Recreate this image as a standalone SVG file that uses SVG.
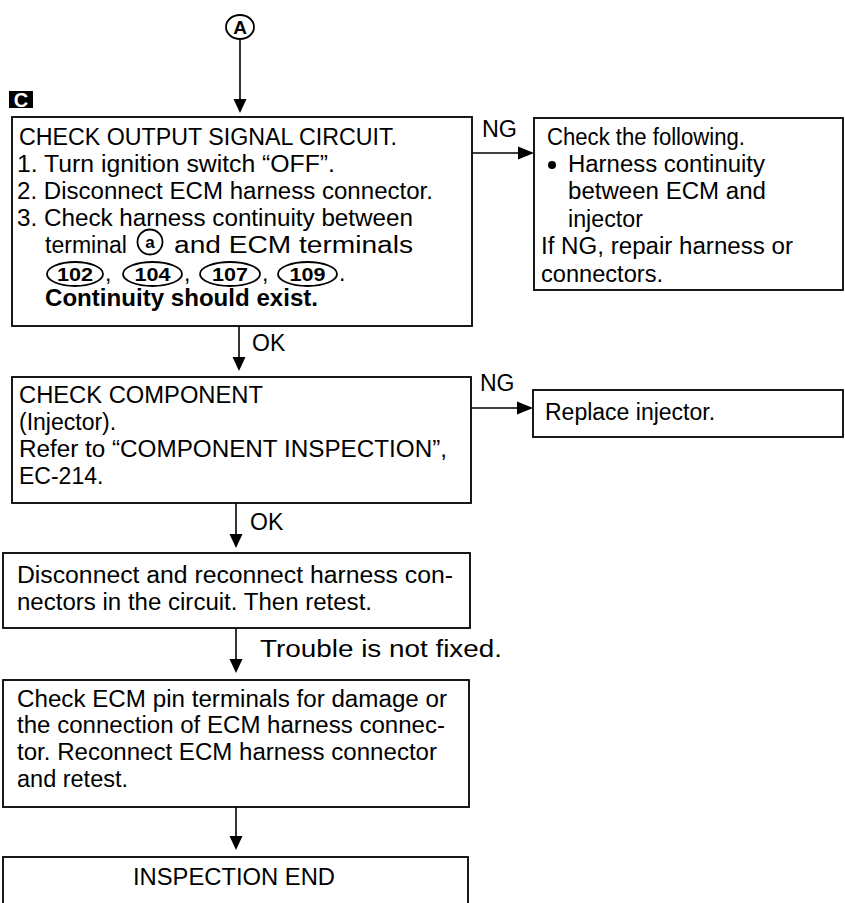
<svg xmlns="http://www.w3.org/2000/svg" width="845" height="903" viewBox="0 0 845 903">
<style>
  .box { fill: #ffffff; stroke: #000000; stroke-width: 1.8; }
  .t { font-family: "Liberation Sans", Arial, Helvetica, sans-serif; font-size: 23px; fill: #000000; }
  .b { font-weight: bold; }
  .num { font-family: "Liberation Sans", Arial, Helvetica, sans-serif; font-size: 18px; font-weight: bold; fill: #000000; text-anchor: middle; }
  .ring { fill: none; stroke: #000000; stroke-width: 1.8; }
  .line { stroke: #000000; stroke-width: 1.6; fill: none; }
  .head { fill: #000000; stroke: none; }
</style>
<rect x="0" y="0" width="845" height="903" fill="#ffffff"/>

<g id="startA">
  <ellipse class="ring" cx="240" cy="27" rx="14" ry="12"/>
  <text class="num" x="240" y="34" style="font-size:19px">A</text>
</g>

<g id="labelC">
  <rect x="9" y="91" width="24" height="17" fill="#000000"/>
  <text x="21" y="107" font-family="Liberation Sans, Arial, sans-serif" font-size="20" font-weight="bold" fill="#ffffff" text-anchor="middle">C</text>
</g>

<g id="connectors">
  <line class="line" x1="240" y1="39" x2="240" y2="100"/>
  <polygon class="head" points="233.5,99 246.5,99 240,113"/>

  <line class="line" x1="472" y1="153" x2="520" y2="153"/>
  <polygon class="head" points="518,146.5 518,159.5 534,153"/>
  <text class="t" x="482" y="137" textLength="35" lengthAdjust="spacingAndGlyphs">NG</text>

  <line class="line" x1="239" y1="326" x2="239" y2="358"/>
  <polygon class="head" points="232.5,357 245.5,357 239,371"/>
  <text class="t" x="252" y="351">OK</text>

  <line class="line" x1="471" y1="408" x2="519" y2="408"/>
  <polygon class="head" points="517,401.5 517,414.5 533,408"/>
  <text class="t" x="480" y="391">NG</text>

  <line class="line" x1="236" y1="503" x2="236" y2="535"/>
  <polygon class="head" points="229.5,534 242.5,534 236,548"/>
  <text class="t" x="250" y="530">OK</text>

  <line class="line" x1="236" y1="628" x2="236" y2="660"/>
  <polygon class="head" points="229.5,659 242.5,659 236,673"/>
  <text class="t" x="260" y="657" textLength="242" lengthAdjust="spacingAndGlyphs">Trouble is not fixed.</text>

  <line class="line" x1="236" y1="807" x2="236" y2="837"/>
  <polygon class="head" points="229.5,836 242.5,836 236,850"/>
</g>

<g id="checkOutput">
  <rect class="box" x="12" y="117" width="460" height="209"/>
  <text class="t" x="19" y="145" textLength="378" lengthAdjust="spacingAndGlyphs">CHECK OUTPUT SIGNAL CIRCUIT.</text>
  <text class="t" x="17" y="172" textLength="318" lengthAdjust="spacingAndGlyphs">1. Turn ignition switch “OFF”.</text>
  <text class="t" x="17" y="199" textLength="416" lengthAdjust="spacingAndGlyphs">2. Disconnect ECM harness connector.</text>
  <text class="t" x="17" y="226" textLength="396" lengthAdjust="spacingAndGlyphs">3. Check harness continuity between</text>
  <text class="t" x="45" y="253" textLength="82" lengthAdjust="spacingAndGlyphs">terminal</text>
  <circle class="ring" cx="150" cy="242" r="12.5"/>
  <text class="t" x="150" y="247.5" style="font-size:17px;font-weight:bold" text-anchor="middle">a</text>
  <text class="t" x="174" y="253" textLength="239" lengthAdjust="spacingAndGlyphs">and ECM terminals</text>
  <ellipse class="ring" cx="75" cy="274" rx="28" ry="12"/>
  <text class="num" x="75" y="280.5" textLength="36" lengthAdjust="spacingAndGlyphs">102</text>
  <text class="t" x="105" y="281">,</text>
  <ellipse class="ring" cx="152.5" cy="274" rx="29.5" ry="12"/>
  <text class="num" x="152.5" y="280.5" textLength="36" lengthAdjust="spacingAndGlyphs">104</text>
  <text class="t" x="184" y="281">,</text>
  <ellipse class="ring" cx="230" cy="274" rx="30" ry="12"/>
  <text class="num" x="230" y="280.5" textLength="36" lengthAdjust="spacingAndGlyphs">107</text>
  <text class="t" x="262" y="281">,</text>
  <ellipse class="ring" cx="307.5" cy="274" rx="29.5" ry="12"/>
  <text class="num" x="307.5" y="280.5" textLength="36" lengthAdjust="spacingAndGlyphs">109</text>
  <text class="t" x="339" y="281">.</text>
  <text class="t b" x="45" y="306" textLength="273" lengthAdjust="spacingAndGlyphs">Continuity should exist.</text>
</g>

<g id="checkFollowing">
  <rect class="box" x="534" y="118" width="309" height="172"/>
  <text class="t" x="547" y="145" textLength="198" lengthAdjust="spacingAndGlyphs">Check the following.</text>
  <circle cx="552" cy="165" r="4" fill="#000000"/>
  <text class="t" x="568" y="172" textLength="197" lengthAdjust="spacingAndGlyphs">Harness continuity</text>
  <text class="t" x="568" y="199" textLength="198" lengthAdjust="spacingAndGlyphs">between ECM and</text>
  <text class="t" x="568" y="227" textLength="75" lengthAdjust="spacingAndGlyphs">injector</text>
  <text class="t" x="541" y="254" textLength="252" lengthAdjust="spacingAndGlyphs">If NG, repair harness or</text>
  <text class="t" x="541" y="282" textLength="122" lengthAdjust="spacingAndGlyphs">connectors.</text>
</g>

<g id="checkComponent">
  <rect class="box" x="12" y="377" width="459" height="126"/>
  <text class="t" x="19" y="403" textLength="244" lengthAdjust="spacingAndGlyphs">CHECK COMPONENT</text>
  <text class="t" x="19" y="430">(Injector).</text>
  <text class="t" x="19" y="457" textLength="428" lengthAdjust="spacingAndGlyphs">Refer to “COMPONENT INSPECTION”,</text>
  <text class="t" x="19" y="484">EC-214.</text>
</g>

<g id="replaceInjector">
  <rect class="box" x="533" y="390" width="310" height="47"/>
  <text class="t" x="545" y="420">Replace injector.</text>
</g>

<g id="reconnect">
  <rect class="box" x="3" y="553" width="467" height="75"/>
  <text class="t" x="17" y="583" textLength="436" lengthAdjust="spacingAndGlyphs">Disconnect and reconnect harness con-</text>
  <text class="t" x="17" y="610" textLength="355" lengthAdjust="spacingAndGlyphs">nectors in the circuit. Then retest.</text>
</g>

<g id="checkPins">
  <rect class="box" x="3" y="680" width="466" height="127"/>
  <text class="t" x="17" y="707" textLength="430" lengthAdjust="spacingAndGlyphs">Check ECM pin terminals for damage or</text>
  <text class="t" x="17" y="733" textLength="428" lengthAdjust="spacingAndGlyphs">the connection of ECM harness connec-</text>
  <text class="t" x="17" y="760" textLength="420" lengthAdjust="spacingAndGlyphs">tor. Reconnect ECM harness connector</text>
  <text class="t" x="17" y="787" textLength="111" lengthAdjust="spacingAndGlyphs">and retest.</text>
</g>

<g id="inspectionEnd">
  <rect class="box" x="3" y="857" width="465" height="60"/>
  <text class="t" x="133" y="885" textLength="202" lengthAdjust="spacingAndGlyphs">INSPECTION END</text>
</g>
</svg>
